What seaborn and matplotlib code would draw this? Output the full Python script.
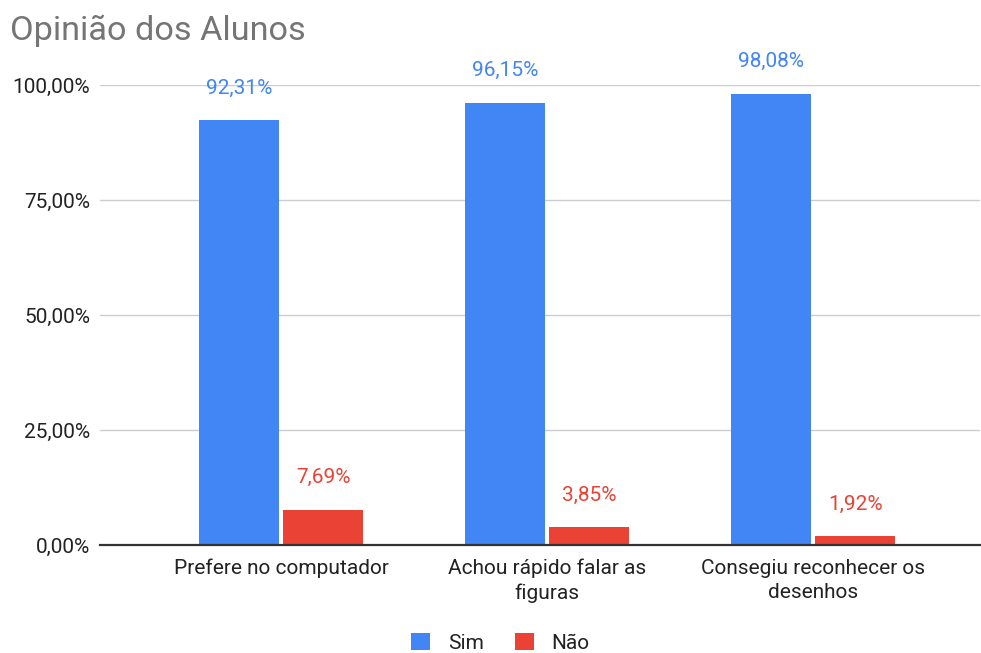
import matplotlib
matplotlib.use("Agg")
import matplotlib.pyplot as plt
import seaborn as sns
import pandas as pd
from matplotlib.ticker import FuncFormatter, FixedLocator

categories = ["Prefere no computador", "Achou rápido falar as\nfiguras", "Consegiu reconhecer os\ndesenhos"]
series_names = ["Sim", "Não"]
sim_values = [92.31, 96.15, 98.08]
nao_values = [7.69, 3.85, 1.92]
y_ticks = [0, 25, 50, 75, 100]
colors = ["#4285F4", "#EA4335"]

rows = []
for c, s, n in zip(categories, sim_values, nao_values):
    rows.append({"cat": c, "serie": "Sim", "val": s})
    rows.append({"cat": c, "serie": "Não", "val": n})
df = pd.DataFrame(rows)

sns.set_theme(style="white")
plt.rcParams["font.family"] = ["Roboto", "DejaVu Sans"]

FS = 15

fig = plt.figure(figsize=(9.81, 6.53), dpi=100)
ax = fig.add_axes([0.102, 0.1654, 0.897, 0.7044])

sns.barplot(data=df, x="cat", y="val", hue="serie", order=categories,
            hue_order=series_names, palette=colors, width=0.635, gap=0.05,
            saturation=1, linewidth=0, ax=ax, legend=True)

ax.set_ylim(0, 100)
ax.set_xlim(-0.68, 2.628)
ax.yaxis.set_major_locator(FixedLocator(y_ticks))
ax.yaxis.set_major_formatter(FuncFormatter(lambda v, p: f"{v:.2f}".replace(".", ",") + "%"))
ax.grid(axis="y", color="#cccccc", linewidth=1)
ax.set_axisbelow(True)
for sp in ["top", "right", "left"]:
    ax.spines[sp].set_visible(False)
ax.spines["bottom"].set_color("#333333")
ax.spines["bottom"].set_linewidth(1.6)
ax.spines["bottom"].set_zorder(5)
ax.set_xlabel("")
ax.set_ylabel("")
ax.tick_params(axis="y", length=0, pad=7, labelsize=FS, labelcolor="#222222")
ax.tick_params(axis="x", length=0, pad=10, labelsize=FS, labelcolor="#222222")
for lab in ax.get_xticklabels():
    lab.set_linespacing(1.35)

for container, col in zip(ax.containers, colors):
    for bar in container:
        h = bar.get_height()
        ax.annotate(f"{h:.2f}".replace(".", ",") + "%",
                    xy=(bar.get_x() + bar.get_width() / 2, h),
                    xytext=(0, 32), textcoords="offset pixels",
                    ha="center", va="center", color=col, fontsize=FS,
                    annotation_clip=False)

leg = ax.legend(loc="center", bbox_to_anchor=(0.455, -0.213), ncol=2,
                frameon=False, fontsize=FS, handlelength=0.9, handleheight=0.9,
                columnspacing=1.5, handletextpad=0.85)
for t in leg.get_texts():
    t.set_color("#222222")

fig.text(0.010, 0.953, "Opinião dos Alunos", fontsize=24.7, color="#757575",
         ha="left", va="center")

fig.savefig("out.png", dpi=100)
